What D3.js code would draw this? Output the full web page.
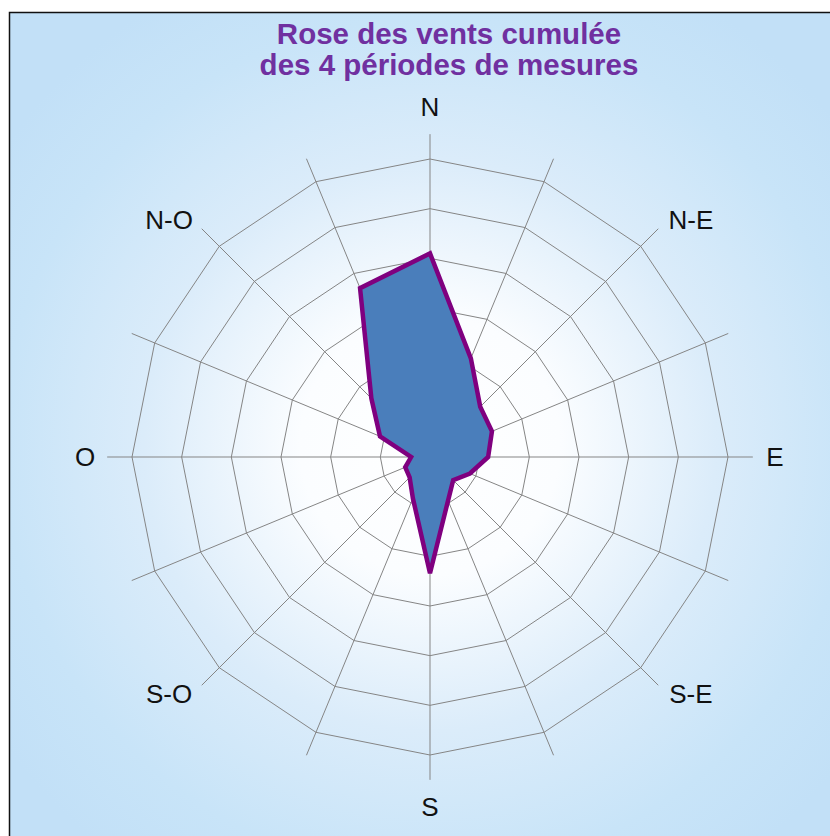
<!DOCTYPE html>
<html>
<head>
<meta charset="utf-8">
<script src="https://cdn.jsdelivr.net/npm/d3@7"></script>
<style>
html,body{margin:0;padding:0;background:#fff;}
svg{display:block;}
</style>
</head>
<body>
<svg id="chart" width="830" height="836"></svg>
<script>
// ---- data ----
const titleLines = ["Rose des vents cumulée", "des 4 périodes de mesures"];
const directions = ["N","NNE","NE","ENE","E","ESE","SE","SSE","S","SSO","SO","OSO","O","ONO","NO","NNO"];
const directionLabels = ["N","","N-E","","E","","S-E","","S","","S-O","","O","","N-O",""];
const values = [4.1, 2.15, 1.43, 1.35, 1.17, 0.87, 0.66, 0.95, 2.34, 0.9, 0.58, 0.54, 0.38, 1.09, 1.67, 3.68];
const ringTicks = [1, 2, 3, 4, 5, 6];

// ---- layout ----
const W = 830, H = 836;
const cx = 430, cy = 457;
const svg = d3.select("#chart");

const defs = svg.append("defs");
const grad = defs.append("radialGradient")
  .attr("id","bg").attr("gradientUnits","userSpaceOnUse")
  .attr("cx",430).attr("cy",445).attr("r",520);
grad.append("stop").attr("offset","0").attr("stop-color","#ffffff");
grad.append("stop").attr("offset","0.25").attr("stop-color","#fbfdff");
grad.append("stop").attr("offset","0.55").attr("stop-color","#dbecfa");
grad.append("stop").attr("offset","0.82").attr("stop-color","#c8e4f8");
grad.append("stop").attr("offset","1").attr("stop-color","#c2e0f7");

svg.append("rect").attr("x",0).attr("y",0).attr("width",W).attr("height",H).attr("fill","#ffffff");
svg.append("rect").attr("x",9.5).attr("y",12.5).attr("width",W).attr("height",H)
  .attr("fill","url(#bg)").attr("stroke","#111").attr("stroke-width",1.5);

// title (two separate lines)
titleLines.forEach((t,i)=>{
  svg.append("text").attr("x",449).attr("y", 44 + i*31)
    .attr("text-anchor","middle")
    .style("font-family","Liberation Sans, Arial, sans-serif")
    .style("font-weight","bold").style("font-size","29.5px").attr("fill","#7030A0")
    .text(t);
});

const r = d3.scaleLinear().domain([0, 6]).range([0, 298]);
const angle = d3.scalePoint().domain(directions).range([0, 2*Math.PI*(1-1/directions.length)]);

const g = svg.append("g").attr("transform",`translate(${cx},${cy})`);

const ringLine = d3.lineRadial()
  .angle(d => angle(d))
  .curve(d3.curveLinearClosed);

function drawGrid(sel, opacity){
  ringTicks.forEach(t=>{
    sel.append("path")
      .attr("d", ringLine.radius(() => r(t))(directions))
      .attr("fill","none").attr("stroke","#858585").attr("stroke-width",1)
      .attr("stroke-opacity",opacity);
  });
  directions.forEach(dn=>{
    const a = angle(dn);
    sel.append("line")
      .attr("x1",0).attr("y1",0)
      .attr("x2", Math.sin(a)*r(6.5)).attr("y2", -Math.cos(a)*r(6.5))
      .attr("stroke","#858585").attr("stroke-width",1).attr("stroke-opacity",opacity);
  });
}
drawGrid(g.append("g"), 1);

// data polygon
const area = d3.lineRadial()
  .angle((d,i) => angle(directions[i]))
  .radius(d => r(d))
  .curve(d3.curveLinearClosed);

g.append("path")
  .attr("d", area(values))
  .attr("fill","#4a7ebb")
  .attr("stroke","#7f007f").attr("stroke-width",4.5)
  .attr("stroke-linejoin","miter");

// faint grid over the fill
const over = g.append("g");
over.attr("clip-path","url(#polyclip)");
defs.append("clipPath").attr("id","polyclip").append("path")
  .attr("d", area(values)).attr("transform",`translate(${cx},${cy})`);
drawGrid(over, 0.25);

// direction labels
directionLabels.forEach((lab,i)=>{
  if(!lab) return;
  const a = angle(directions[i]);
  const s = Math.sin(a), c = Math.cos(a);
  const diag = Math.abs(s) > 0.1 && Math.abs(c) > 0.1;
  let x = s * 345 + (diag ? Math.sign(s)*17 : 0);
  let y = -c * 350 + (diag ? Math.sign(c)*10 : 0);
  g.append("text")
    .attr("x", x).attr("y", y)
    .attr("text-anchor","middle").attr("dominant-baseline","central")
    .style("font-family","Liberation Sans, Arial, sans-serif")
    .style("font-size","26px").attr("fill","#111")
    .text(lab);
});
</script>
</body>
</html>
